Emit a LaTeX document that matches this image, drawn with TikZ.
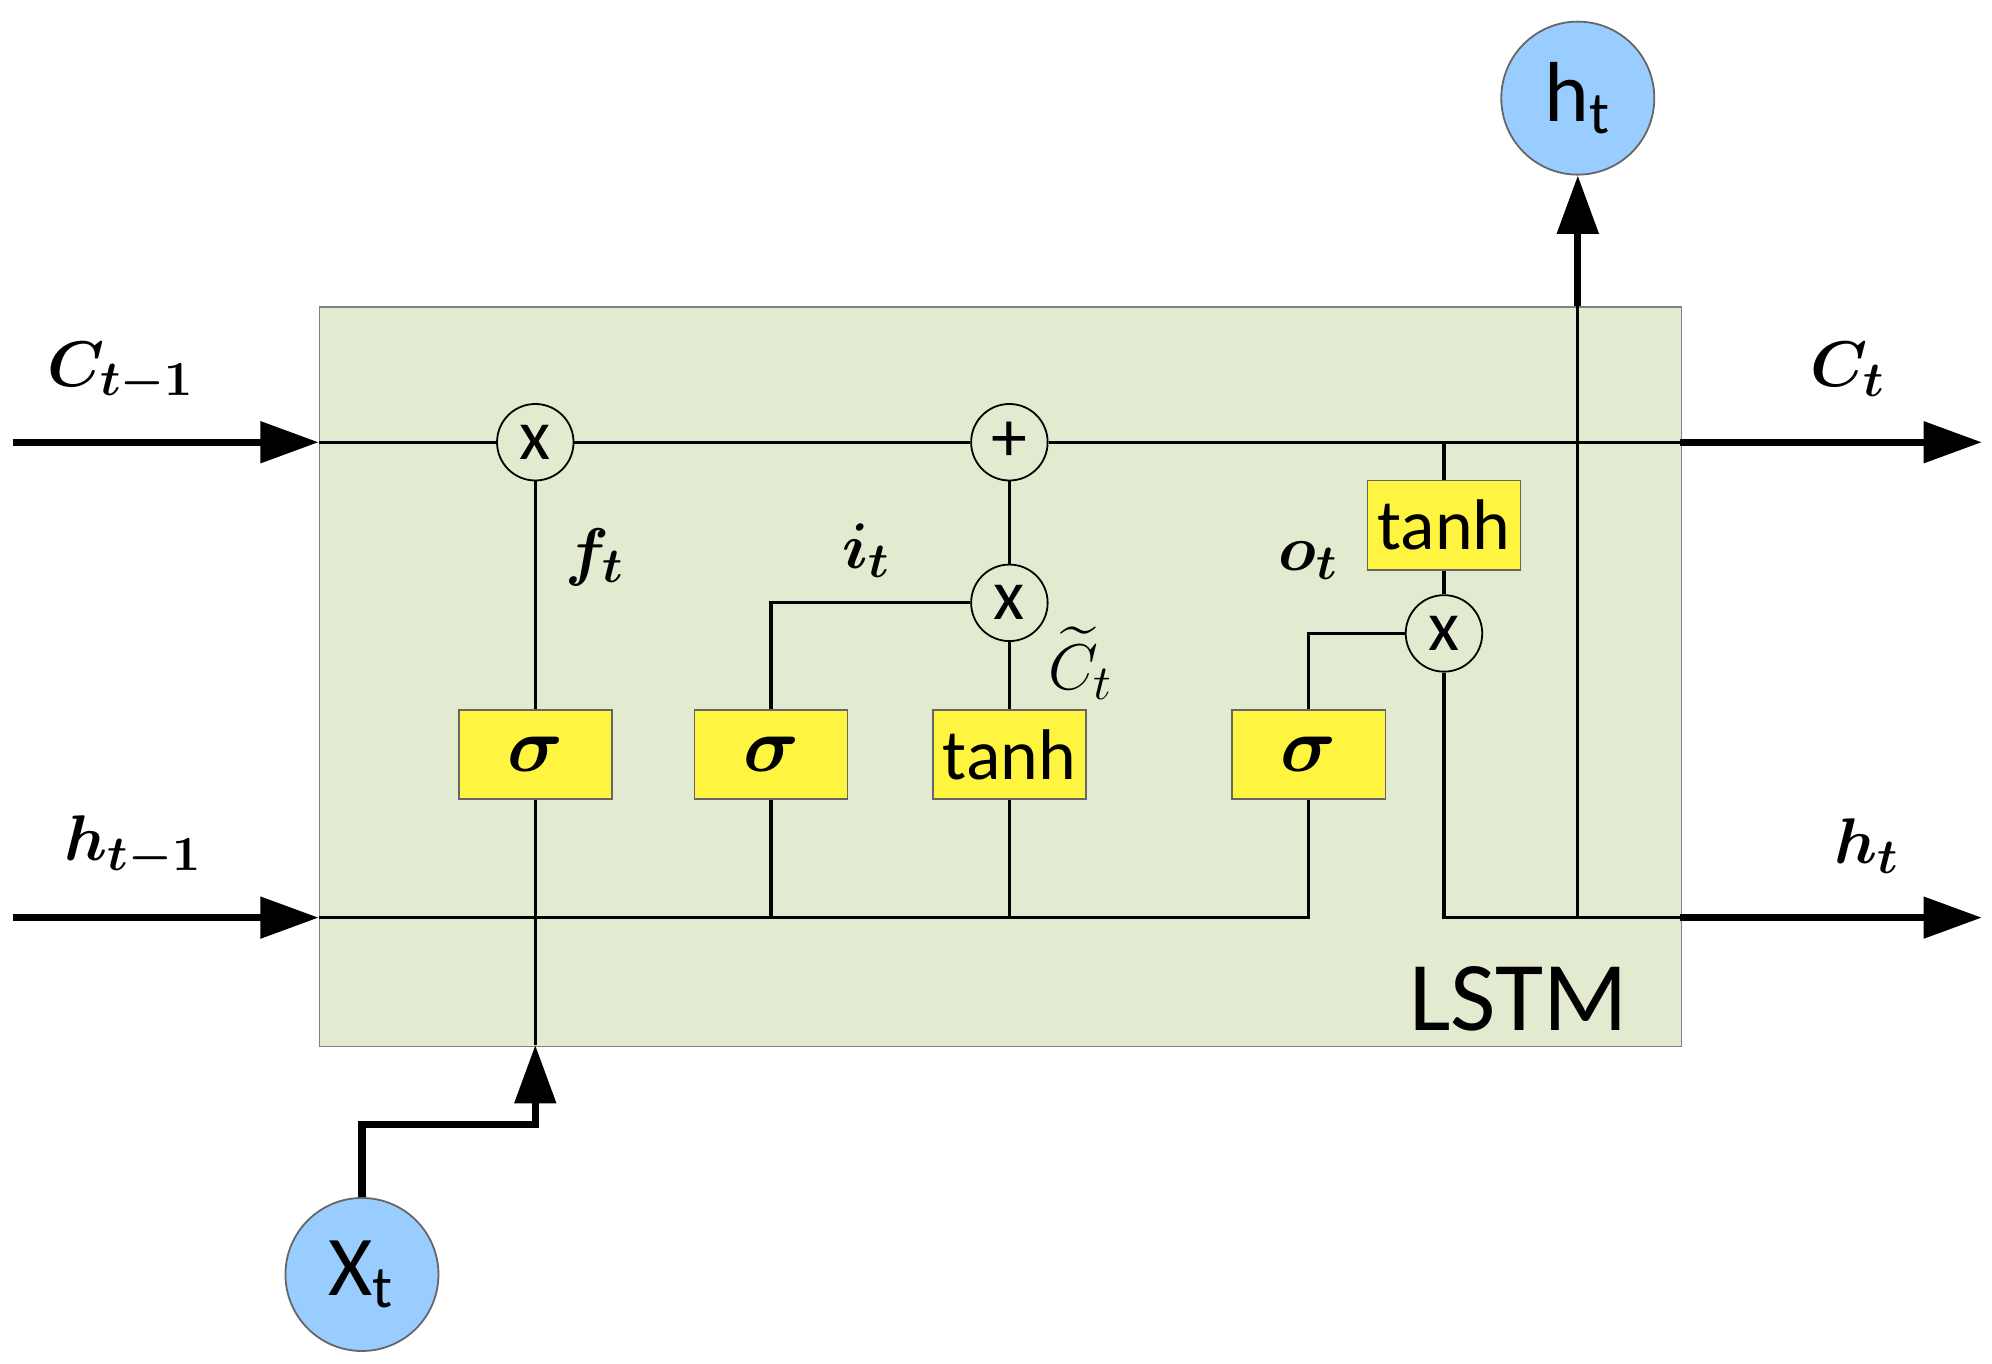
\documentclass[tikz,border=0pt]{standalone}
\usepackage{amsmath,bm}
\usepackage{fontspec}
\newfontfamily\carl{Carlito}
\usetikzlibrary{arrows.meta}
\begin{document}
\begin{tikzpicture}[x=0.01cm,y=-0.01cm,
  thin line/.style={line width=0.7pt},
  thick line/.style={line width=1.6pt},
  arr/.style={-{Triangle[length=13pt,width=9pt]}},
  op/.style={circle,draw,line width=0.4pt,fill=boxbg,minimum size=0.6cm,inner sep=0pt,font=\carl\fontsize{16}{16}\selectfont},
  gate/.style={draw=black!60,line width=0.4pt,fill=yellow!75!white,minimum width=1.2cm,minimum height=0.7cm,inner sep=0pt,font=\carl\fontsize{16}{16}\selectfont},
  io/.style={circle,draw=black!60,line width=0.4pt,fill=iob,minimum size=1.2cm,inner sep=0pt,font=\carl\fontsize{19}{19}\selectfont},
  lab/.style={font=\fontsize{15}{15}\selectfont}]
\definecolor{boxbg}{HTML}{E2EACF}
\definecolor{iob}{HTML}{99CCFF}
\useasboundingbox (0,0) rectangle (1563,1070);
\node[draw=black!50,line width=0.4pt,fill=boxbg,minimum width=10.68cm,minimum height=5.8cm,anchor=north west,inner sep=0pt] (box) at (250,240) {};
\node[anchor=south east,font=\carl\fontsize{22}{22}\selectfont,inner sep=0pt] (lstm) at (1278,810) {LSTM};
% ops
\node[op] (fx) at (420,347) {x};
\node[op] (plus) at (792,347) {+};
\node[op] (ix) at (792,473) {x};
\node[op] (ox) at (1133,497) {x};
\node[gate] (fs) at (420,592) {$\bm{\sigma}$};
\node[gate] (is) at (605,592) {$\bm{\sigma}$};
\node[gate] (ct) at (792,592) {tanh};
\node[gate] (os) at (1027,592) {$\bm{\sigma}$};
\node[gate] (ht) at (1133,412) {tanh};
\node[io] (xt) at (284,1000) {X\textsubscript{t}};
\node[io] (hout) at (1238,77) {h\textsubscript{t}};
% coordinates
\coordinate (cin) at (10,347); \coordinate (cb) at (250,347);
\coordinate (cbr) at (1318,347); \coordinate (cout) at (1555,347);
\coordinate (hin) at (10,720); \coordinate (hb) at (250,720);
\coordinate (hbr) at (1318,720); \coordinate (hend) at (1555,720);
\coordinate (xbot) at (420,820); \coordinate (hup) at (1238,240);
% outer thick arrows
\draw[thick line,arr] (cin) -- (cb);
\draw[thick line,arr] (hin) -- (hb);
\draw[thick line,arr] (cbr) -- (cout);
\draw[thick line,arr] (hbr) -- (hend);
\draw[thick line,arr] (xt.north) |- (284,882) -| (xbot);
\draw[thick line,arr] (hup) -- (hout.south);
% cell line
\draw[thin line] (cb) -- (fx) -- (plus) -- (cbr);
\draw[thin line] (hb) -- (1027,720) -- (os.south);
\draw[thin line] (xbot) -- (fs.south);
\draw[thin line] (fs) -- (fx);
\draw[thin line] (is.south) -- (605,720);
\draw[thin line] (ct.south) -- (792,720);
\draw[thin line] (is.north) |- (ix.west);
\draw[thin line] (ct) -- (ix) -- (plus);
\draw[thin line] (os.north) |- (ox.west);
\draw[thin line] (ox) -- (ht);
\draw[thin line] (ht.north) -- (1133,347);
\draw[thin line] (ox.south) |- (hbr);
\draw[thin line] (1238,720) -- (hup);
% labels
\node[lab] at (95,292) {$\bm{C_{t-1}}$};
\node[lab] at (1450,290) {$\bm{C_t}$};
\node[lab] at (105,664) {$\bm{h_{t-1}}$};
\node[lab] at (1465,664) {$\bm{h_t}$};
\node[lab] at (467,437) {$\bm{f_t}$};
\node[lab] at (680,432) {$\bm{i_t}$};
\node[lab] at (1027,440) {$\bm{o_t}$};
\node[lab] at (848,520) {$\widetilde{C}_t$};
\end{tikzpicture}
\end{document}
